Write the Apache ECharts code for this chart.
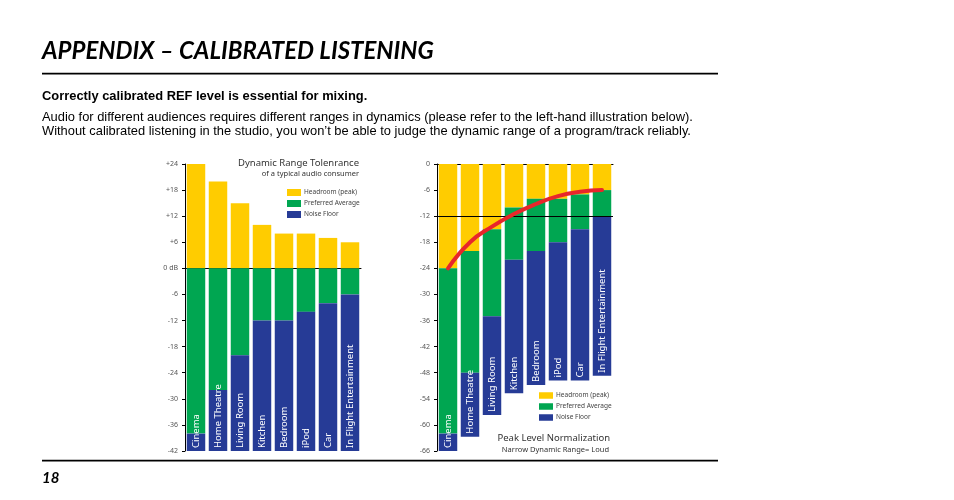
<!DOCTYPE html>
<html>
<head>
<meta charset="utf-8">
<script src="https://cdn.jsdelivr.net/npm/echarts@6/dist/echarts.min.js"></script>
<style>
html,body{margin:0;padding:0;background:#fff;}
#c{width:954px;height:500px;}
</style>
</head>
<body>
<div id="c"></div>
<script>
// ---- data ----
const categories = ['Cinema', 'Home Theatre', 'Living Room', 'Kitchen', 'Bedroom', 'iPod', 'Car', 'In Flight Entertainment'];
// left chart: Dynamic Range Tolerance (dB relative to 0 dB reference)
const leftHeadroomTop = [24, 20, 15, 10, 8, 8, 7, 6];
const leftNoiseFloorTop = [-38, -28, -20, -12, -12, -10, -8, -6];
const leftBottom = [-42.8, -42.8, -42.8, -42.8, -42.8, -42.8, -42.8, -42.8];
// right chart: Peak Level Normalization
const rightHeadroomBottom = [-24, -20, -15, -10, -8, -8, -7, -6];
const rightNoiseFloorTop = [-62, -48, -35, -22, -20, -18, -15, -12];
const rightBottom = [-66.5, -62.7, -57.7, -52.7, -50.8, -49.8, -49.8, -48.7];
const peakCurve = [-24, -18, -14.4, -11.5, -9.2, -7.4, -6.4, -6];

const legendNames = ['Headroom (peak)', 'Preferred Average', 'Noise Floor'];
const leftTitle = 'Dynamic Range Tolenrance';
const leftSubtitle = 'of a typical audio consumer';
const rightTitle = 'Peak Level Normalization';
const rightSubtitle = 'Narrow Dynamic Range= Loud';

const YELLOW = '#FFCC00', GREEN = '#00A651', BLUE = '#263B96', RED = '#E8262B';
const FONT = 'Noto Sans';

const leftGreen = leftNoiseFloorTop.slice();
const leftBlue = leftBottom.map((v, i) => +(v - leftNoiseFloorTop[i]).toFixed(2));
const rightYellow = rightHeadroomBottom.slice();
const rightGreen = rightNoiseFloorTop.map((v, i) => v - rightHeadroomBottom[i]);
const rightBlue = rightBottom.map((v, i) => +(v - rightNoiseFloorTop[i]).toFixed(2));

const barLabel = {
  show: true, position: 'insideBottom', rotate: 90, align: 'left', verticalAlign: 'middle',
  distance: 3, color: '#fff', fontSize: 9.5, fontFamily: FONT,
  formatter: p => p.name
};

function yAxisBase(idx, min, max, fmt) {
  return {
    type: 'value', gridIndex: idx, min: min, max: max, interval: 6,
    axisLine: {show: true, lineStyle: {color: '#000', width: 1}},
    axisTick: {show: true, length: 3, lineStyle: {color: '#000'}},
    axisLabel: {fontSize: 7, color: '#555', fontFamily: FONT, margin: 7, formatter: fmt},
    splitLine: {show: false}
  };
}
function xAxisBase(idx) {
  return {
    type: 'category', gridIndex: idx, data: categories,
    axisLine: {show: true, onZero: true, lineStyle: {color: '#000', width: 1}},
    axisTick: {show: false}, axisLabel: {show: false}, splitLine: {show: false}
  };
}

const chart = echarts.init(document.getElementById('c'), null, {renderer: 'canvas'});
const textStyle = (o) => Object.assign({fill: '#000', verticalAlign: 'middle'}, o);

chart.setOption({
  animation: false,
  backgroundColor: '#fff',
  grid: [
    {left: 185, top: 164, width: 176, height: 287},
    {left: 437, top: 164, width: 176, height: 287}
  ],
  xAxis: [xAxisBase(0), xAxisBase(1)],
  yAxis: [
    yAxisBase(0, -42, 24, v => v > 0 ? '+' + v : (v === 0 ? '0 dB' : String(v))),
    yAxisBase(1, -66, 0, v => String(v))
  ],
  legend: [
    {data: legendNames, left: 287, top: 189, orient: 'vertical', itemWidth: 14, itemHeight: 7, itemGap: 4,
     icon: 'rect', selectedMode: false, padding: 0,
     textStyle: {fontSize: 6.5, color: '#444', fontFamily: FONT, lineHeight: 7, padding: [0, 0, 0, -2]}},
    {data: legendNames, left: 539, top: 392, orient: 'vertical', itemWidth: 14, itemHeight: 6.5, itemGap: 4,
     icon: 'rect', selectedMode: false, padding: 0,
     textStyle: {fontSize: 6.5, color: '#444', fontFamily: FONT, lineHeight: 6.5, padding: [0, 0, 0, -2]}}
  ],
  series: [
    {name: legendNames[0], type: 'bar', stack: 'L', xAxisIndex: 0, yAxisIndex: 0, data: leftHeadroomTop,
     itemStyle: {color: YELLOW}, barCategoryGap: '16%'},
    {name: legendNames[1], type: 'bar', stack: 'L', xAxisIndex: 0, yAxisIndex: 0, data: leftGreen,
     itemStyle: {color: GREEN}, barCategoryGap: '16%'},
    {name: legendNames[2], type: 'bar', stack: 'L', xAxisIndex: 0, yAxisIndex: 0, data: leftBlue,
     itemStyle: {color: BLUE}, barCategoryGap: '16%', label: barLabel},

    {name: legendNames[0], type: 'bar', stack: 'R', xAxisIndex: 1, yAxisIndex: 1, data: rightYellow,
     itemStyle: {color: YELLOW}, barCategoryGap: '16%'},
    {name: legendNames[1], type: 'bar', stack: 'R', xAxisIndex: 1, yAxisIndex: 1, data: rightGreen,
     itemStyle: {color: GREEN}, barCategoryGap: '16%'},
    {name: legendNames[2], type: 'bar', stack: 'R', xAxisIndex: 1, yAxisIndex: 1, data: rightBlue,
     itemStyle: {color: BLUE}, barCategoryGap: '16%', label: barLabel},

    {name: 'ref12', type: 'line', xAxisIndex: 1, yAxisIndex: 1, data: [], z: 1,
     markLine: {silent: true, symbol: 'none', label: {show: false},
       lineStyle: {color: '#000', width: 1, type: 'solid'}, data: [{yAxis: -12}]}},
    {name: 'Peak curve', type: 'line', xAxisIndex: 1, yAxisIndex: 1, data: peakCurve, smooth: 0.5,
     symbol: 'none', z: 5, lineStyle: {color: RED, width: 4, cap: 'round'}}
  ],
  graphic: [
    {type: 'text', x: 42, y: 51, style: textStyle({text: 'APPENDIX – CALIBRATED LISTENING',
      font: 'italic bold 24px Lato', fill: '#000'})},
    {type: 'rect', shape: {x: 42, y: 72.7, width: 676, height: 1.8}, style: {fill: '#000'}},
    {type: 'text', x: 42, y: 96, style: textStyle({text: 'Correctly calibrated REF level is essential for mixing.',
      font: 'bold 12.9px "Liberation Sans"'})},
    {type: 'text', x: 42, y: 117, style: textStyle({text: 'Audio for different audiences requires different ranges in dynamics (please refer to the left-hand illustration below).',
      font: '12.9px "Liberation Sans"'})},
    {type: 'text', x: 42, y: 131, style: textStyle({text: 'Without calibrated listening in the studio, you won’t be able to judge the dynamic range of a program/track reliably.',
      font: '12.9px "Liberation Sans"'})},
    {type: 'rect', shape: {x: 42, y: 459.8, width: 676, height: 1.8}, style: {fill: '#000'}},
    {type: 'text', x: 42, y: 478, style: textStyle({text: '18', font: 'italic bold 15px Lato'})},

    {type: 'text', x: 359, y: 163, style: textStyle({text: leftTitle, font: '9.5px "Noto Sans"', fill: '#333', textAlign: 'right'})},
    {type: 'text', x: 359, y: 174, style: textStyle({text: leftSubtitle, font: '7.5px "Noto Sans"', fill: '#333', textAlign: 'right'})},
    {type: 'text', x: 610, y: 438, style: textStyle({text: rightTitle, font: '9.5px "Noto Sans"', fill: '#333', textAlign: 'right'})},
    {type: 'text', x: 609, y: 450, style: textStyle({text: rightSubtitle, font: '7.5px "Noto Sans"', fill: '#333', textAlign: 'right'})}
  ]
});
</script>
</body>
</html>
